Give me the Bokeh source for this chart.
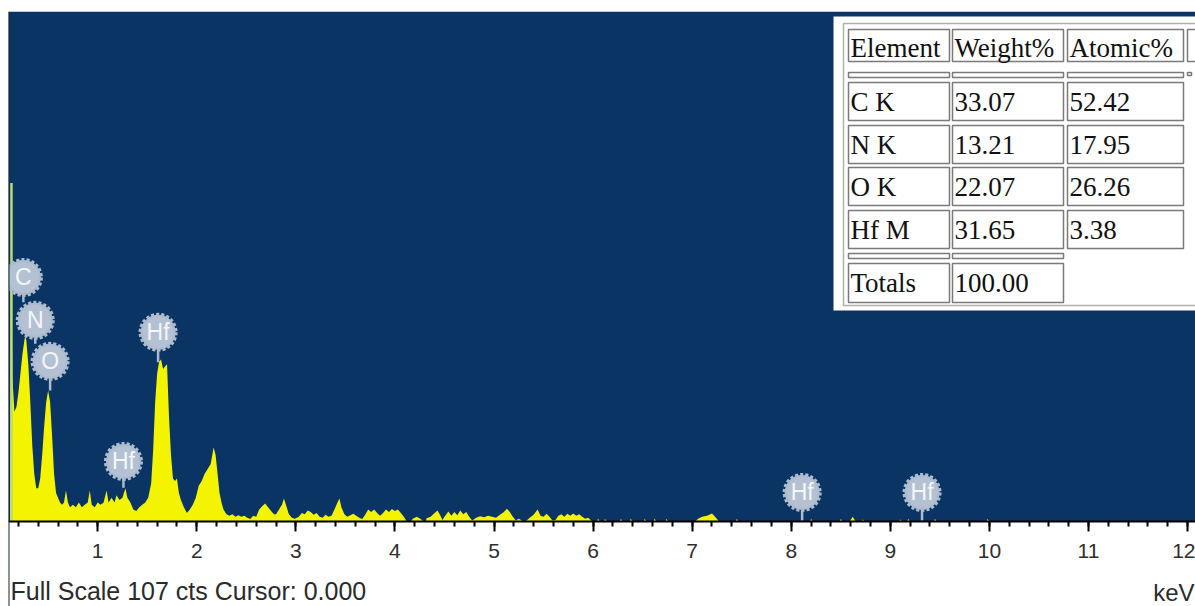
from bokeh.plotting import figure
from bokeh.models import Range1d, Label, BoxAnnotation, SingleIntervalTicker, LinearAxis
from bokeh.embed import file_html
from bokeh.resources import INLINE
from bokeh.core.properties import value

# ---------------- data ----------------
full_scale = 107
x_start_kev = 0.1
x_end_kev = 12.08

energy_kev = [
    0.105, 0.115, 0.12, 0.13, 0.14, 0.16, 0.18, 0.20, 0.22, 0.24, 0.26, 0.27, 0.28, 0.30,
    0.32, 0.34, 0.36, 0.38, 0.40, 0.42, 0.44, 0.46, 0.48, 0.50, 0.52, 0.54, 0.56, 0.58,
    0.60, 0.62, 0.64, 0.66, 0.68, 0.70, 0.72, 0.75, 0.78, 0.81, 0.84, 0.87, 0.90, 0.92,
    0.94, 0.97, 1.00, 1.03, 1.06, 1.09, 1.11, 1.14, 1.17, 1.19, 1.22, 1.25, 1.28, 1.30,
    1.33, 1.36, 1.39, 1.42, 1.45, 1.48, 1.51, 1.54, 1.56, 1.58, 1.60, 1.62, 1.64, 1.66,
    1.68, 1.70, 1.72, 1.74, 1.76, 1.78, 1.80, 1.82, 1.84, 1.87, 1.90, 1.93, 1.96, 1.99,
    2.02, 2.05, 2.08, 2.11, 2.14, 2.17, 2.19, 2.21, 2.23, 2.25, 2.27, 2.30, 2.33, 2.36,
    2.39, 2.42, 2.45, 2.48, 2.51, 2.54, 2.57, 2.60, 2.63, 2.66, 2.69, 2.72, 2.75, 2.78,
    2.80, 2.83, 2.86, 2.88, 2.90, 2.93, 2.96, 2.99, 3.03, 3.06, 3.09, 3.12, 3.15, 3.18,
    3.21, 3.24, 3.27, 3.30, 3.33, 3.36, 3.39, 3.42, 3.44, 3.46, 3.49, 3.52, 3.55, 3.58,
    3.61, 3.64, 3.67, 3.70, 3.73, 3.76, 3.79, 3.82, 3.85, 3.88, 3.91, 3.94, 3.97, 4.00,
    4.03, 4.06, 4.09, 4.12, 4.16, 4.18, 4.22, 4.26, 4.29, 4.31, 4.32, 4.36, 4.40, 4.43,
    4.46, 4.48, 4.50, 4.54, 4.57, 4.60, 4.63, 4.66, 4.69, 4.72, 4.75, 4.78, 4.82, 4.86,
    4.90, 4.94, 4.98, 5.02, 5.06, 5.10, 5.13, 5.16, 5.19, 5.22, 5.25, 5.28, 5.30, 5.33,
    5.36, 5.40, 5.44, 5.47, 5.50, 5.53, 5.56, 5.59, 5.62, 5.65, 5.68, 5.71, 5.74, 5.77,
    5.80, 5.83, 5.86, 5.89, 5.92, 5.95, 5.98, 6.00,
    6.04, 6.05, 6.07, 6.11, 6.12, 6.14, 6.27, 6.28, 6.30, 6.37, 6.38, 6.40,
    6.51, 6.52, 6.54, 6.61, 6.62, 6.64, 6.73, 6.74, 6.76,
    7.03, 7.06, 7.10, 7.15, 7.20, 7.24, 7.27, 7.44, 7.45, 7.47,
    8.19, 8.20, 8.22, 8.49, 8.50, 8.52, 8.59, 8.62, 8.65, 8.71, 8.72, 8.74,
    9.09, 9.10, 9.12, 9.17, 9.18, 9.20, 9.44, 9.45, 9.47, 9.97, 9.98, 10.00, 12.08,
]
counts = [
    0, 0, 52, 44, 30, 23, 24, 27, 31, 35, 38, 39, 38, 33,
    25, 16, 10, 7, 7, 9, 14, 20, 25, 27.5, 25, 18, 10, 6,
    5, 4, 3.5, 4, 6.5, 4, 3, 3.5, 3, 4, 3, 3.5, 4, 6.5,
    3.5, 3, 4, 3.5, 4, 6.5, 4, 5, 4, 5.5, 4.5, 5, 7, 5,
    4, 2.5, 2.2, 3, 3.5, 4, 5, 8, 15, 25, 31, 33.5, 34, 32,
    32.5, 33, 22, 14, 9, 8.5, 9, 6, 4.5, 3, 1.8, 2.5, 3.5, 5,
    7.5, 8.5, 10, 11, 12, 15.5, 14, 10, 6, 4, 2.5, 1.5, 1.2, 1.5,
    1.0, 1.3, 1.0, 1.2, 0.8, 0.5, 1.2, 1.0, 2.5, 3.2, 3.8, 3.0, 2.2, 1.5,
    1.5, 2.5, 3.5, 4.8, 3.5, 1.5, 0.8, 0.6, 1.0, 1.8, 1.5, 2.3, 2.0, 1.4,
    1.8, 1.0, 0.8, 1.4, 1.0, 1.2, 2.5, 4.0, 4.8, 3.0, 1.5, 1.0, 1.3, 1.6,
    1.2, 0.8, 0.5, 1.4, 2.5, 2.0, 2.5, 1.8, 1.2, 1.8, 2.5, 2.0, 2.6, 2.2,
    2.5, 1.8, 1.0, 0, 0, 0.6, 1.0, 0.5, 0, 0, 0.7, 1.0, 1.8, 2.3,
    1.2, 0.3, 1.0, 2.1, 1.2, 2.0, 1.3, 2.3, 1.5, 2.0, 1.0, 0.2, 0.8, 1.1,
    0.9, 1.2, 1.0, 0.8, 1.4, 2.0, 2.7, 2.0, 1.0, 0.2, 0.6, 0.2, 0, 0.2,
    0.8, 1.4, 2.5, 1.2, 1.0, 1.6, 1.0, 0.2, 0.3, 1.2, 1.5, 1.0, 1.6, 1.2,
    1.7, 1.2, 1.5, 1.0, 0.6, 0.8, 0.2, 0,
    0, 0.6, 0, 0, 0.5, 0, 0, 0.5, 0, 0, 0.6, 0,
    0, 0.5, 0, 0, 0.6, 0, 0, 0.5, 0,
    0, 0.6, 1.0, 1.2, 1.7, 0.8, 0, 0, 0.5, 0,
    0, 0.5, 0, 0, 0.5, 0, 0, 1.0, 0, 0, 0.4, 0,
    0, 0.4, 0, 0, 0.5, 0, 0, 0.5, 0, 0, 0.5, 0, 0,
]

zero_peak_kev = [0.13]
zero_peak_cts = [71]

marker_labels = ["C", "N", "O", "Hf", "Hf", "Hf", "Hf"]
marker_kev = [0.25, 0.37, 0.52, 1.61, 1.26, 8.11, 9.32]
marker_cts = [51.2, 42.2, 33.6, 39.7, 12.6, 6.1, 6.1]
stem_bottom_cts = [46.0, 37.3, 27.5, 33.4, 7.1, 0.2, 0.2]

table_header = ["Element", "Weight%", "Atomic%"]
elements = ["C K", "N K", "O K", "Hf M"]
weight_pct = ["33.07", "13.21", "22.07", "31.65"]
atomic_pct = ["52.42", "17.95", "26.26", "3.38"]
totals_label = "Totals"
totals_value = "100.00"

# ---------------- layout ----------------
W, H = 1195, 606
LEFT, TOP, AXIS_PX = 8, 11, 521
px_per_count = (AXIS_PX - TOP) / full_scale
y_bottom = -(H - AXIS_PX) / px_per_count

p = figure(width=W, height=H, output_backend="svg", toolbar_location=None,
           x_range=Range1d(x_start_kev, x_end_kev), y_range=Range1d(y_bottom, full_scale),
           x_axis_location=None, y_axis_location=None,
           min_border_left=LEFT, min_border_top=TOP, min_border_right=0,
           min_border_bottom=0)
p.background_fill_color = "white"
p.border_fill_color = "white"
p.outline_line_color = None
p.grid.visible = False

# blue plotting area above the energy axis
p.add_layout(BoxAnnotation(bottom=0, fill_color="#0a3464", fill_alpha=1,
                           line_color=None, level="underlay"))

ax = LinearAxis(fixed_location=0)
ax.ticker = SingleIntervalTicker(interval=1, num_minor_ticks=5)
ax.axis_line_width = 2
ax.axis_line_color = "black"
ax.major_tick_in = 0
ax.major_tick_out = 10
ax.major_tick_line_width = 2
ax.major_tick_line_color = "black"
ax.minor_tick_in = 0
ax.minor_tick_out = 5
ax.minor_tick_line_width = 2
ax.minor_tick_line_color = "black"
ax.major_label_text_font = "Liberation Sans"
ax.major_label_text_font_size = "21px"
ax.major_label_text_color = "#2e2e2e"
ax.major_label_standoff = 12
p.add_layout(ax, "below")

# spectrum
p.varea(x=energy_kev, y1=0, y2=counts, fill_color="#f4f400")
p.segment(x0=zero_peak_kev, y0=[0], x1=zero_peak_kev, y1=zero_peak_cts,
          line_color="#b4dc78", line_width=2.5)

# element markers
mk = "#adbbce"
p.segment(x0=marker_kev, y0=stem_bottom_cts, x1=marker_kev, y1=marker_cts,
          line_color=mk, line_width=2.5)
p.scatter(x=marker_kev, y=marker_cts, size=35, fill_color=mk, line_color=mk,
          line_width=4, line_dash="3 2")
p.scatter(x=marker_kev, y=marker_cts, size=31, fill_color="#b4c1d3", line_color=None)
p.text(x=marker_kev, y=marker_cts, text=marker_labels, text_align="center",
       text_baseline="middle", text_font=value("Liberation Sans"),
       text_font_size="23px", text_color="#f3f6fa")

# left frame line
p.add_layout(BoxAnnotation(left=-1, right=1, left_units="screen", right_units="screen",
                           fill_color="#1c2633", fill_alpha=1, line_color=None))


def sx(px):
    return px - LEFT


def sy(py):
    return H - py


def box(x0, y0, x1, y1, fill="white", line="#7a7a7a", lw=1.5):
    p.add_layout(BoxAnnotation(left=sx(x0), right=sx(x1), top=sy(y0), bottom=sy(y1),
                               left_units="screen", right_units="screen",
                               top_units="screen", bottom_units="screen",
                               fill_color=fill, fill_alpha=1 if fill else 0,
                               line_color=line, line_width=lw, line_alpha=1))


def txt(px, py, s, size="27px", font="Liberation Serif", color="#111111", align="left"):
    p.add_layout(Label(x=sx(px), y=sy(py), x_units="screen", y_units="screen", text=s,
                       text_font=font, text_font_size=size, text_color=color,
                       text_align=align, text_baseline="middle"))


# table popup
box(833, 16, 1200, 310, fill="white", line=None)
box(843, 23, 1200, 305, fill=None, line="#b0b0b0", lw=1.5)

cols = [(848, 949), (952, 1063), (1067, 1183)]
header_row = (29, 61)
rows = [(82, 120), (125, 163), (167, 205), (210, 248)]
sep1 = (72, 77)
sep2 = (253, 258)
tot_row = (263, 302)

for (c0, c1), h in zip(cols, table_header):
    box(c0, header_row[0], c1, header_row[1])
    txt(c0 + 2, (header_row[0] + header_row[1]) / 2 + 2, h)
box(1187, header_row[0], 1200, header_row[1])
for c0, c1 in cols:
    box(c0, sep1[0], c1, sep1[1])
box(1187, sep1[0], 1191, sep1[0] + 3)

for (r0, r1), e, wv, av in zip(rows, elements, weight_pct, atomic_pct):
    for (c0, c1), s in zip(cols, [e, wv, av]):
        box(c0, r0, c1, r1)
        txt(c0 + 2, (r0 + r1) / 2, s)

for c0, c1 in cols[:2]:
    box(c0, sep2[0], c1, sep2[1])
for (c0, c1), s in zip(cols[:2], [totals_label, totals_value]):
    box(c0, tot_row[0], c1, tot_row[1])
    txt(c0 + 2, (tot_row[0] + tot_row[1]) / 2, s)

# bottom texts
txt(10, 590, f"Full Scale {full_scale} cts Cursor: 0.000", size="25px",
    font="Liberation Sans", color="#2a2a2a")
txt(1194, 592, "keV", size="24px", font="Liberation Sans", color="#2a2a2a",
    align="right")

open("out.html", "w").write(file_html(p, INLINE))
